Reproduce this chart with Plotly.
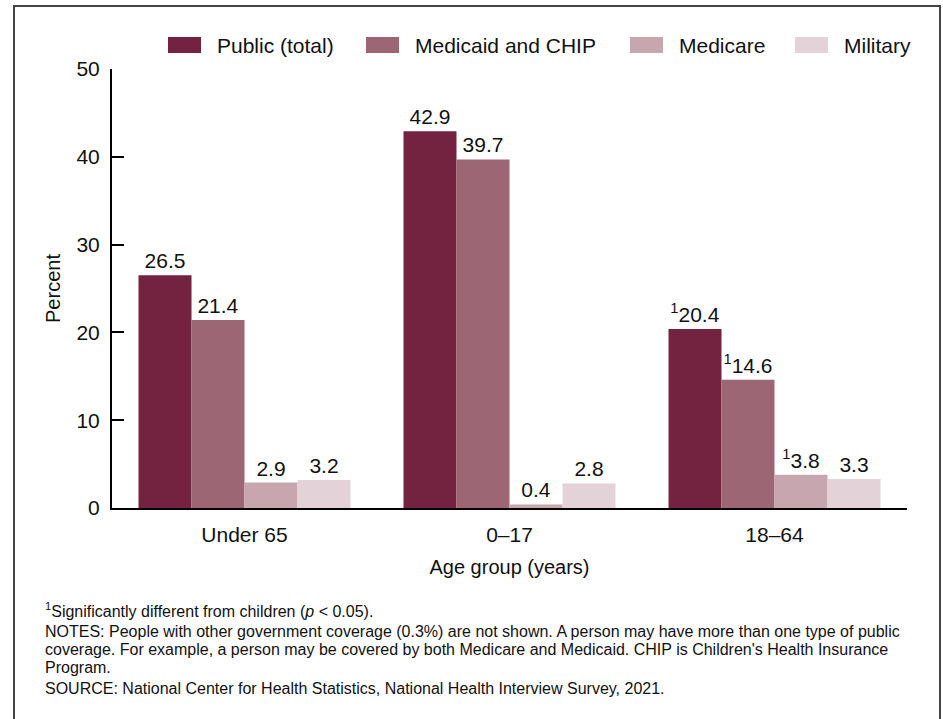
import plotly.graph_objects as go

categories = ["Under 65", "0–17", "18–64"]
series_names = ["Public (total)", "Medicaid and CHIP", "Medicare", "Military"]
public_total = [26.5, 42.9, 20.4]
medicaid_chip = [21.4, 39.7, 14.6]
medicare = [2.9, 0.4, 3.8]
military = [3.2, 2.8, 3.3]
public_labels = ["26.5", "42.9", "<sup>1</sup>20.4"]
medicaid_labels = ["21.4", "39.7", "<sup>1</sup>14.6"]
medicare_labels = ["2.9", "0.4", "<sup>1</sup>3.8"]
military_labels = ["3.2", "2.8", "3.3"]
y_ticks = [0, 10, 20, 30, 40, 50]

colors = ["#73233f", "#9c6674", "#c8a6af", "#e3d2d8"]
values = [public_total, medicaid_chip, medicare, military]
labels = [public_labels, medicaid_labels, medicare_labels, military_labels]

FONT = "Liberation Sans, Arial, sans-serif"
FS = 21

fig = go.Figure()
for name, vals, labs, col in zip(series_names, values, labels, colors):
    fig.add_trace(go.Bar(
        x=categories, y=vals, name=name, marker=dict(color=col, line=dict(width=0)),
        text=labs, textposition="outside", texttemplate="%{text}",
        textfont=dict(size=FS, color="#111", family=FONT),
        cliponaxis=False, showlegend=False,
    ))

W, H = 943, 719
L, R, T, B = 112, 36, 69, 211
pw, ph = W - L - R, H - T - B

def px_x(p):
    return (p - L) / pw

def px_y(p):
    return (H - B - p) / ph

notes = [
    (610, "<sup>1</sup>Significantly different from children (<i>p</i> &lt; 0.05)."),
    (631, "NOTES: People with other government coverage (0.3%) are not shown. A person may have more than one type of public"),
    (649, "coverage. For example, a person may be covered by both Medicare and Medicaid. CHIP is Children's Health Insurance"),
    (667, "Program."),
    (688, "SOURCE: National Center for Health Statistics, National Health Interview Survey, 2021."),
]
annotations = []
for py, txt in notes:
    annotations.append(dict(
        text=txt, xref="paper", yref="paper", x=px_x(43), y=px_y(py),
        xanchor="left", yanchor="middle", showarrow=False, align="left",
        font=dict(size=16, color="#111", family=FONT),
    ))

shapes = [dict(type="rect", xref="paper", yref="paper",
               x0=px_x(14), x1=px_x(940), y0=px_y(6), y1=px_y(760),
               line=dict(color="#444", width=2), fillcolor="rgba(0,0,0,0)", layer="above")]

# manual legend (wide rectangular swatches as in the reference)
legend_x = [168, 366, 630, 795]
for name, col, lx in zip(series_names, colors, legend_x):
    shapes.append(dict(type="rect", xref="paper", yref="paper",
                       x0=px_x(lx), x1=px_x(lx + 33), y0=px_y(53), y1=px_y(37),
                       line=dict(width=0), fillcolor=col))
    annotations.append(dict(
        text=name, xref="paper", yref="paper", x=px_x(lx + 47), y=px_y(45),
        xanchor="left", yanchor="middle", showarrow=False,
        font=dict(size=FS, color="#111", family=FONT),
    ))

fig.update_layout(
    width=W, height=H,
    margin=dict(l=L, r=R, t=T, b=B, pad=0),
    paper_bgcolor="white", plot_bgcolor="white",
    barmode="group", bargap=0.2, bargroupgap=0,
    font=dict(family=FONT, size=FS, color="#111"),
    showlegend=False,
    xaxis=dict(range=[-0.5, 2.5], showline=True, linecolor="black", linewidth=2,
               ticks="", showgrid=False, zeroline=False, ticklabelstandoff=7,
               tickfont=dict(size=FS), title=dict(text="Age group (years)", font=dict(size=20), standoff=15)),
    yaxis=dict(range=[0, 50], tickvals=y_ticks, showline=True, linecolor="black", linewidth=2,
               ticks="inside", ticklen=12, tickwidth=2, tickcolor="black", showgrid=False,
               zeroline=False, tickfont=dict(size=FS), ticklabelstandoff=6,
               title=dict(text="Percent", font=dict(size=20), standoff=10)),
    annotations=annotations,
    shapes=shapes,
)

fig.write_html("out.html", config={"displayModeBar": False},
               post_script="document.body.style.margin='0';document.body.style.overflow='hidden';")
